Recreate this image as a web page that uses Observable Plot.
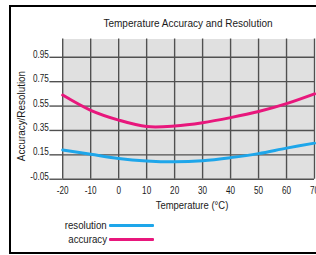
<!DOCTYPE html>
<html>
<head>
<meta charset="utf-8">
<script src="https://cdn.jsdelivr.net/npm/d3@7"></script>
<script src="https://cdn.jsdelivr.net/npm/@observablehq/plot@0.6"></script>
<style>
  html, body { margin: 0; padding: 0; background: #fff; overflow: hidden; }
  #wrap { position: relative; width: 316px; height: 255px; overflow: hidden;
          font-family: "Liberation Sans", Arial, sans-serif; color: #1a1a1a; }
  #frame { position: absolute; left: 9px; top: 5px; width: 330px; height: 249px;
           border: 2px solid #000; box-sizing: border-box; }
  #chart { position: absolute; left: 0; top: 0; }
  .lbl { position: absolute; white-space: nowrap; }
  #title { left: 187.5px; top: 23px; font-size: 11.5px; transform: translate(-50%, -50%) scaleX(0.87); }
  #xlabel { left: 192px; top: 205px; font-size: 11px; transform: translate(-50%, -50%) scaleX(0.86); }
  #ylabel { left: 21px; top: 116px; font-size: 11px; transform: translate(-50%, -50%) rotate(-90deg) scaleX(0.9); }
  .leg { position: absolute; font-size: 11px; line-height: 12px; }
  .legtext { position: absolute; right: 209px; text-align: right; white-space: nowrap; transform: scaleX(0.88); transform-origin: right center; }
  .sw { position: absolute; left: 109px; width: 45px; height: 3px; border-radius: 1px; }
</style>
</head>
<body>
<div id="wrap">
  <div id="frame"></div>
  <div id="chart"></div>
  <div id="title" class="lbl">Temperature Accuracy and Resolution</div>
  <div id="xlabel" class="lbl">Temperature (°C)</div>
  <div id="ylabel" class="lbl">Accuracy/Resolution</div>
  <div id="legend"></div>
</div>
<script>
const temps = [-20, -10, 0, 10, 20, 30, 40, 50, 60, 70];
const accuracy = [0.64, 0.515, 0.435, 0.382, 0.386, 0.413, 0.455, 0.505, 0.57, 0.65];
const resolution = [0.19, 0.155, 0.12, 0.10, 0.093, 0.102, 0.127, 0.16, 0.205, 0.246];
const xTicks = [-20, -10, 0, 10, 20, 30, 40, 50, 60, 70];
const yTicks = [-0.05, 0.15, 0.35, 0.55, 0.75, 0.95];
const seriesNames = ["resolution", "accuracy"];
const seriesColors = ["#1ea6ea", "#e8177c"];

const rows = [];
temps.forEach((t, i) => {
  rows.push({t, v: resolution[i], s: "resolution"});
  rows.push({t, v: accuracy[i], s: "accuracy"});
});

const gridColor = "#505050";
const chart = Plot.plot({
  width: 320,
  height: 216,
  marginTop: 39,
  marginBottom: 35,
  marginLeft: 63,
  marginRight: 2,
  x: {domain: [-20, 70]},
  y: {domain: [-0.05, 1.1]},
  color: {domain: seriesNames, range: seriesColors},
  style: {fontFamily: "'Liberation Sans', Arial, sans-serif", fontSize: "11px", color: "#1a1a1a", background: "transparent", overflow: "visible"},
  marks: [
    Plot.frame({fill: "#e0e0e0", stroke: null}),
    Plot.gridX(xTicks, {stroke: gridColor, strokeOpacity: 1, strokeWidth: 1.4}),
    Plot.gridY(yTicks, {stroke: gridColor, strokeOpacity: 1, strokeWidth: 1.4}),
    Plot.axisY(yTicks, {tickSize: 13, stroke: gridColor, strokeWidth: 1.4, tickFormat: () => "", label: null}),
    Plot.axisY(yTicks, {tickSize: 0, tickPadding: 14, dy: -3, tickFormat: d => d.toFixed(2), label: null, fill: "#1a1a1a"}),
    Plot.axisX(xTicks, {tickSize: 0, tickPadding: 7, tickFormat: d => String(d), label: null, fill: "#1a1a1a"}),
    Plot.line(rows, {x: "t", y: "v", z: "s", stroke: "s", strokeWidth: 3, curve: "catmull-rom"})
  ]
});
// narrow the tick label glyphs to mimic the condensed face of the original
chart.querySelectorAll('g[aria-label="y-axis tick label"] text, g[aria-label="x-axis tick label"] text').forEach(el => {
  const tr = el.getAttribute("transform") || "";
  el.setAttribute("transform", tr + " scale(0.75,1)");
});
document.getElementById("chart").appendChild(chart);

const legend = document.getElementById("legend");
const legY = [219, 233];
seriesNames.forEach((name, i) => {
  const t = document.createElement("div");
  t.className = "leg legtext";
  t.style.top = legY[i] + "px";
  t.textContent = name;
  legend.appendChild(t);
  const sw = document.createElement("div");
  sw.className = "sw";
  sw.style.top = (legY[i] + 5) + "px";
  sw.style.background = seriesColors[i];
  legend.appendChild(sw);
});
</script>
</body>
</html>
